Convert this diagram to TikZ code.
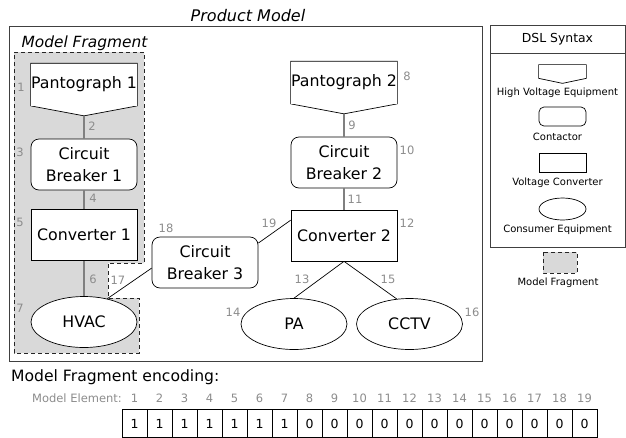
\documentclass[tikz,border=0pt]{standalone}
\usepackage{fontspec}
\setmainfont{DejaVu Sans}
\usetikzlibrary{calc,shapes.geometric}

\definecolor{fraggray}{RGB}{217,217,217}
\definecolor{numgray}{RGB}{140,140,140}
\definecolor{linkgray}{RGB}{128,128,128}

\tikzset{
  elem/.style={draw, fill=white, line width=0.7pt, minimum width=106pt, minimum height=51pt,
    inner sep=0pt, align=center, font=\fontsize{15.8}{21.5}\selectfont},
  hvequip/.style={elem, draw=none, minimum height=42pt,
    append after command={\pgfextra{
      \edef\hvname{\tikzlastnode}
      \fill[white] (\hvname.south west) -- ([yshift=-#1]\hvname.south) -- (\hvname.south east) -- cycle;
      \draw[line width=0.7pt] (\hvname.south west) -- (\hvname.north west) -- (\hvname.north east)
        -- (\hvname.south east) -- ([yshift=-#1]\hvname.south) -- cycle;
      \coordinate (\hvname-tip) at ([yshift=-#1]\hvname.south);}}},
  hvequip/.default=10pt,
  contactor/.style={elem, rounded corners=8pt},
  converter/.style={elem},
  consumer/.style={elem, ellipse},
  num/.style={text=numgray, inner sep=0pt, font=\fontsize{11.5}{13}\selectfont},
  dsltext/.style={inner sep=0pt, font=\fontsize{10}{12}\selectfont},
  link/.style={draw=linkgray, line width=1.1pt},
  wire/.style={draw=black, line width=0.7pt},
  frame/.style={draw=black!75, line width=0.8pt},
  fragment/.style={draw=black!85, fill=fraggray, line width=1pt, dash pattern=on 4pt off 3pt},
  bitcell/.style={draw, line width=0.7pt, minimum width=25pt, minimum height=28pt, inner sep=0pt,
    font=\fontsize{12.5}{14}\selectfont},
}

\begin{document}
\begin{tikzpicture}[x=1pt, y=-1pt]
  \useasboundingbox (0,0) rectangle (626,437);

  % product model
  \draw[frame] (9,26) rectangle (482,361);
  \node[font=\fontsize{16}{19}\selectfont\itshape] (pm-title) at (248,16) {Product Model};

  % model fragment
  \draw[fragment] (14,52) -- (144,52) -- (144,263) -- (108,263) -- (108,298)
    -- (139,298) -- (139,353) -- (14,353) -- cycle;
  \node[font=\fontsize{15.4}{18}\selectfont\itshape] (mf-title) at (84.5,43) {Model Fragment};

  % elements
  \node[hvequip] (pan1) at (84,84.5) {Pantograph 1};
  \node[contactor] (cb1) at (84,164.5) {Circuit\\Breaker 1};
  \node[converter] (conv1) at (84,235) {Converter 1};
  \node[consumer] (hvac) at (84,322) {HVAC};

  \node[hvequip] (pan2) at (344,82.5) {Pantograph 2};
  \node[contactor] (cb2) at (344,162.5) {Circuit\\Breaker 2};
  \node[converter] (conv2) at (344,235.5) {Converter 2};
  \node[consumer] (pa) at (294,324) {PA};
  \node[consumer] (cctv) at (409.5,324) {CCTV};

  \node[contactor] (cb3) at (205,262.5) {Circuit\\Breaker 3};

  % connectors
  \draw[link] (pan1-tip) -- (cb1.north);
  \draw[link] (cb1.south) -- (conv1.north);
  \draw[link] (conv1.south) -- (hvac.north);
  \draw[link] (pan2-tip) -- (cb2.north);
  \draw[link] (cb2.south) -- (conv2.north);
  \draw[wire] (conv2.south) -- (pa.north);
  \draw[wire] (conv2.south) -- (cctv.117);
  \draw[wire] (cb3.186) -- (hvac.45);
  \draw[wire] (cb3.20) -- (conv2.164);

  % element numbers
  \foreach \n/\x/\y in {1/21/87, 2/92/126, 3/20/152, 4/93/198, 5/20/222, 6/93/279, 7/20/308,
      8/407/76, 9/352/125, 10/407/150, 11/355/199, 12/407/223, 13/302/279, 14/233/312,
      15/388/279, 16/472/312, 17/118/280, 18/166/228, 19/269/223}
    \node[num] (no-\n) at (\x,\y) {\n};

  % dsl syntax legend
  \draw[frame] (490,25) rectangle (625,247);
  \draw[frame] (490,53) -- (625,53);
  \node[font=\fontsize{12.4}{14}\selectfont] (dsl-title) at (557.5,39) {DSL Syntax};
  \node[hvequip=5pt, minimum width=47pt, minimum height=13pt] (icon-hv) at (562.5,71.5) {};
  \node[dsltext] (txt-hv) at (557.5,93) {High Voltage Equipment};
  \node[contactor, minimum width=47pt, minimum height=19pt, rounded corners=5pt] (icon-cb) at (562.5,116.5) {};
  \node[dsltext] (txt-cb) at (557.5,137) {Contactor};
  \node[converter, minimum width=47pt, minimum height=19pt] (icon-conv) at (562.5,162.5) {};
  \node[dsltext] (txt-conv) at (557.5,183) {Voltage Converter};
  \node[consumer, minimum width=47pt, minimum height=22pt] (icon-cons) at (562.5,209) {};
  \node[dsltext] (txt-cons) at (557.5,230) {Consumer Equipment};
  \draw[fragment] (543,252) rectangle (577,273);
  \node[dsltext] (txt-frag) at (558,283) {Model Fragment};

  % encoding
  \node[anchor=west, inner sep=0pt, font=\fontsize{15.6}{18}\selectfont] (enc-title) at (11,377) {Model Fragment encoding:};
  \node[num, anchor=east] (elem-title) at (122,398) {Model Element:};
  \foreach \i/\b in {1/1, 2/1, 3/1, 4/1, 5/1, 6/1, 7/1, 8/0, 9/0, 10/0,
      11/0, 12/0, 13/0, 14/0, 15/0, 16/0, 17/0, 18/0, 19/0} {
    \node[num] (idx-\i) at (109.5+25*\i,398) {\i};
    \node[bitcell] (bit-\i) at (109.5+25*\i,423.5) {\b};
  }
\end{tikzpicture}
\end{document}
